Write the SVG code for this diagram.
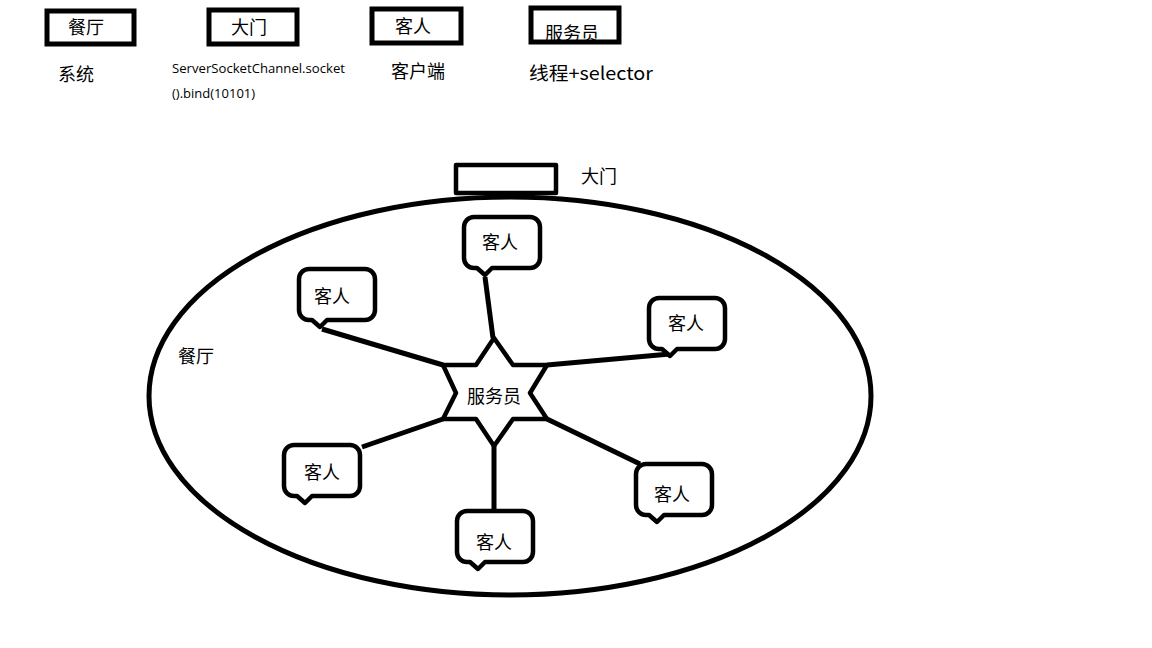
<svg xmlns="http://www.w3.org/2000/svg" xmlns:xlink="http://www.w3.org/1999/xlink" width="1152" height="648" viewBox="0 0 1152 648">
<style>
.box{fill:none;stroke:#000;stroke-width:5}
.shape{fill:#fff;stroke:#000;stroke-width:4.5;stroke-linejoin:round}
.conn{stroke:#000;stroke-width:5;fill:none}
.cjk{font-family:"Noto Sans CJK SC","Microsoft YaHei",sans-serif;font-size:18px;fill:#000}
.lat{font-family:"Open Sans","Noto Sans",sans-serif;fill:#000}
.mid{text-anchor:middle}
</style>
<defs>
<path id="bubble" d="M12,2 H68 A10,10 0 0 1 78,12 V43 A10,10 0 0 1 68,53 H30 L23,60 L15,53 H12 A10,10 0 0 1 2,43 V12 A10,10 0 0 1 12,2 Z"/>
</defs>
<rect width="1152" height="648" fill="#fff"/>

<g id="legend">
<g id="legend-restaurant">
<rect class="box" x="47" y="11" width="87" height="33"/>
<text class="cjk mid" x="86" y="34">餐厅</text>
<text class="cjk mid" x="76" y="81">系统</text>
</g>
<g id="legend-door">
<rect class="box" x="209" y="10" width="88" height="34"/>
<text class="cjk mid" x="249" y="34">大门</text>
<text class="lat" x="172" y="73" font-size="13" textLength="173" lengthAdjust="spacingAndGlyphs">ServerSocketChannel.socket</text>
<text class="lat" x="172" y="98" font-size="13">().bind(10101)</text>
</g>
<g id="legend-guest">
<rect class="box" x="372" y="9" width="89" height="34"/>
<text class="cjk mid" x="413" y="33">客人</text>
<text class="cjk mid" x="418" y="78">客户端</text>
</g>
<g id="legend-waiter">
<rect class="box" x="531" y="8" width="88" height="34"/>
<text class="cjk mid" x="572" y="40">服务员</text>
<text class="cjk" x="529" y="80" textLength="124" lengthAdjust="spacingAndGlyphs">线程+selector</text>
</g>
</g>

<g id="restaurant">
<ellipse class="box" cx="510" cy="396" rx="361" ry="199"/>
<text class="cjk mid" x="196" y="363">餐厅</text>
</g>

<g id="door">
<rect class="shape" x="456" y="165" width="100" height="28"/>
<text class="cjk mid" x="599" y="183">大门</text>
</g>

<g id="connectors">
<line class="conn" x1="493" y1="338" x2="485" y2="277"/>
<line class="conn" x1="443" y1="365" x2="322" y2="329"/>
<line class="conn" x1="547" y1="365" x2="670" y2="354"/>
<line class="conn" x1="443" y1="419" x2="362" y2="447"/>
<line class="conn" x1="494" y1="446" x2="494" y2="510"/>
<line class="conn" x1="547" y1="419" x2="640" y2="464"/>
</g>

<g id="waiter">
<polygon class="shape" points="494,338 513,365 547,365 530,393 547,419 513,419 494,446 476,419 443,419 456,393 443,365 476,365"/>
<text class="cjk mid" x="494" y="403">服务员</text>
</g>

<g id="guest-top" transform="translate(462,215)">
<use xlink:href="#bubble" class="shape"/>
<text class="cjk mid" x="38" y="34">客人</text>
</g>
<g id="guest-upper-left" transform="translate(297,267)">
<use xlink:href="#bubble" class="shape"/>
<text class="cjk mid" x="35" y="36">客人</text>
</g>
<g id="guest-upper-right" transform="translate(647,296)">
<use xlink:href="#bubble" class="shape"/>
<text class="cjk mid" x="39" y="34">客人</text>
</g>
<g id="guest-lower-left" transform="translate(282,443)">
<use xlink:href="#bubble" class="shape"/>
<text class="cjk mid" x="40" y="36">客人</text>
</g>
<g id="guest-bottom" transform="translate(455,509)">
<use xlink:href="#bubble" class="shape"/>
<text class="cjk mid" x="39" y="40">客人</text>
</g>
<g id="guest-lower-right" transform="translate(634,462)">
<use xlink:href="#bubble" class="shape"/>
<text class="cjk mid" x="38" y="39">客人</text>
</g>
</svg>
